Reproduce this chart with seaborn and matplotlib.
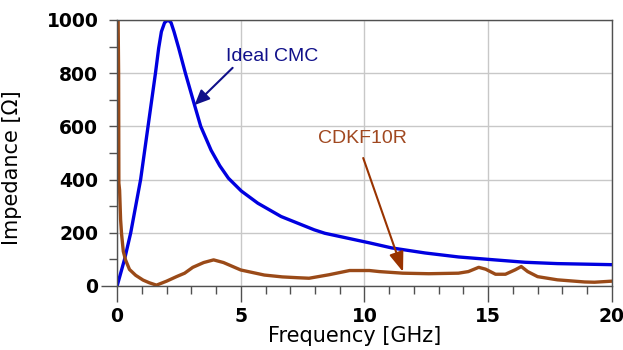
import matplotlib
matplotlib.use("Agg")
import matplotlib.pyplot as plt
import seaborn as sns
import pandas as pd
from matplotlib.ticker import MultipleLocator

# ---- data ----
ideal_freq = [0.0, 0.3, 0.55, 0.95, 1.25, 1.55, 1.68, 1.79, 1.92, 2.06,
              2.18, 2.30, 2.49, 2.76, 3.13, 3.38, 3.8, 4.15, 4.5, 5.02, 5.69,
              6.63, 7.97, 8.4, 10.2, 11.1, 12.45, 13.8, 15.0, 16.5, 17.8, 20.0]
ideal_z = [0, 100, 200, 400, 600, 800, 894, 956, 990, 1000,
           990, 956, 894, 800, 680, 600, 510, 452, 405, 357, 311,
           261, 211, 198, 162, 143, 124, 109, 100, 89, 84, 80]

cdkf_freq = [0.03, 0.06, 0.07, 0.1, 0.14, 0.18, 0.25, 0.34, 0.5, 0.75, 1.05,
             1.3, 1.59, 2.0, 2.4, 2.73, 3.06, 3.5, 3.9, 4.3, 5.0, 5.95, 6.68,
             7.29, 7.76, 8.56, 9.4, 10.2, 10.6, 11.55, 12.6, 13.8, 14.2, 14.62,
             14.9, 15.3, 15.7, 16.1, 16.34, 16.6, 17.0, 17.8, 18.9, 19.3, 20.0]
cdkf_z = [1100, 800, 387, 360, 250, 195, 130, 98, 62, 40, 22,
          12, 3, 18, 35, 48, 70, 88, 98, 88, 60, 41, 34,
          31, 29, 42, 58, 58, 54, 48, 46, 48, 54, 70,
          63, 44, 44, 61, 73, 54, 35, 23, 15, 14, 18]

x_ticks = [0, 5, 10, 15, 20]
y_ticks = [0, 200, 400, 600, 800, 1000]

df_ideal = pd.DataFrame({"Frequency": ideal_freq, "Impedance": ideal_z})
df_cdkf = pd.DataFrame({"Frequency": cdkf_freq, "Impedance": cdkf_z})

sns.set_theme(style="white")
plt.rcParams["font.family"] = ["DejaVu Sans"]
plt.rcParams["text.color"] = "black"
plt.rcParams["axes.labelcolor"] = "black"
plt.rcParams["xtick.color"] = "black"
plt.rcParams["ytick.color"] = "black"

fig = plt.figure(figsize=(6.23, 3.5), dpi=100)
ax = fig.add_axes([0.188, 0.183, 0.794, 0.760])

blue = "#0000e0"
brown = "#9a4a18"

sns.lineplot(data=df_ideal, x="Frequency", y="Impedance", ax=ax,
             color=blue, linewidth=2.4, estimator=None, sort=False)
sns.lineplot(data=df_cdkf, x="Frequency", y="Impedance", ax=ax,
             color=brown, linewidth=2.4, estimator=None, sort=False)

ax.set_xlim(0, 20)
ax.set_ylim(0, 1000)
ax.set_xticks(x_ticks)
ax.set_yticks(y_ticks)
ax.xaxis.set_minor_locator(MultipleLocator(1))
ax.yaxis.set_minor_locator(MultipleLocator(100))
ax.grid(True, which="major", color="#c8c8c8", linewidth=1.0)
ax.set_axisbelow(True)

for s in ax.spines.values():
    s.set_color("#505050")
    s.set_linewidth(1.0)

ax.tick_params(which="both", direction="out", length=5.5, width=1,
               color="#505050", labelcolor="black",
               bottom=True, left=True, top=False, right=False)
ax.tick_params(axis="x", which="major", length=11.5, labelsize=13.5, pad=3.5)
ax.tick_params(axis="y", which="major", labelsize=13.5, pad=8)
for lab in ax.get_xticklabels() + ax.get_yticklabels():
    lab.set_fontweight("bold")

# longer tick at the origin on the y axis, as in the reference
ax.yaxis.get_major_ticks()[0].tick1line.set_markersize(11.5)

ax.set_xlabel("Frequency [GHz]", fontsize=15, color="black")
ax.set_ylabel("Impedance [Ω]", fontsize=15, color="black")
ax.xaxis.set_label_coords(0.481, -0.15)
ax.yaxis.set_label_coords(-0.192, 0.444)

# annotations
ax.text(6.28, 861, "Ideal CMC", color="#10108a", fontsize=14,
        ha="center", va="center", family="Liberation Sans")
ax.annotate("", xy=(3.13, 680), xytext=(4.67, 820),
            arrowprops=dict(arrowstyle="-|>,head_length=0.45,head_width=0.2",
                            mutation_scale=20, color="#10108a", lw=1.5,
                            shrinkA=0, shrinkB=0))
ax.text(9.92, 556, "CDKF10R", color="#a04820", fontsize=14,
        ha="center", va="center", family="Liberation Sans")
ax.annotate("", xy=(11.56, 53), xytext=(9.95, 481),
            arrowprops=dict(arrowstyle="-|>,head_length=0.6,head_width=0.22",
                            mutation_scale=20, color="#993300", lw=1.5,
                            shrinkA=0, shrinkB=0))

fig.savefig("out.png", dpi=100)
